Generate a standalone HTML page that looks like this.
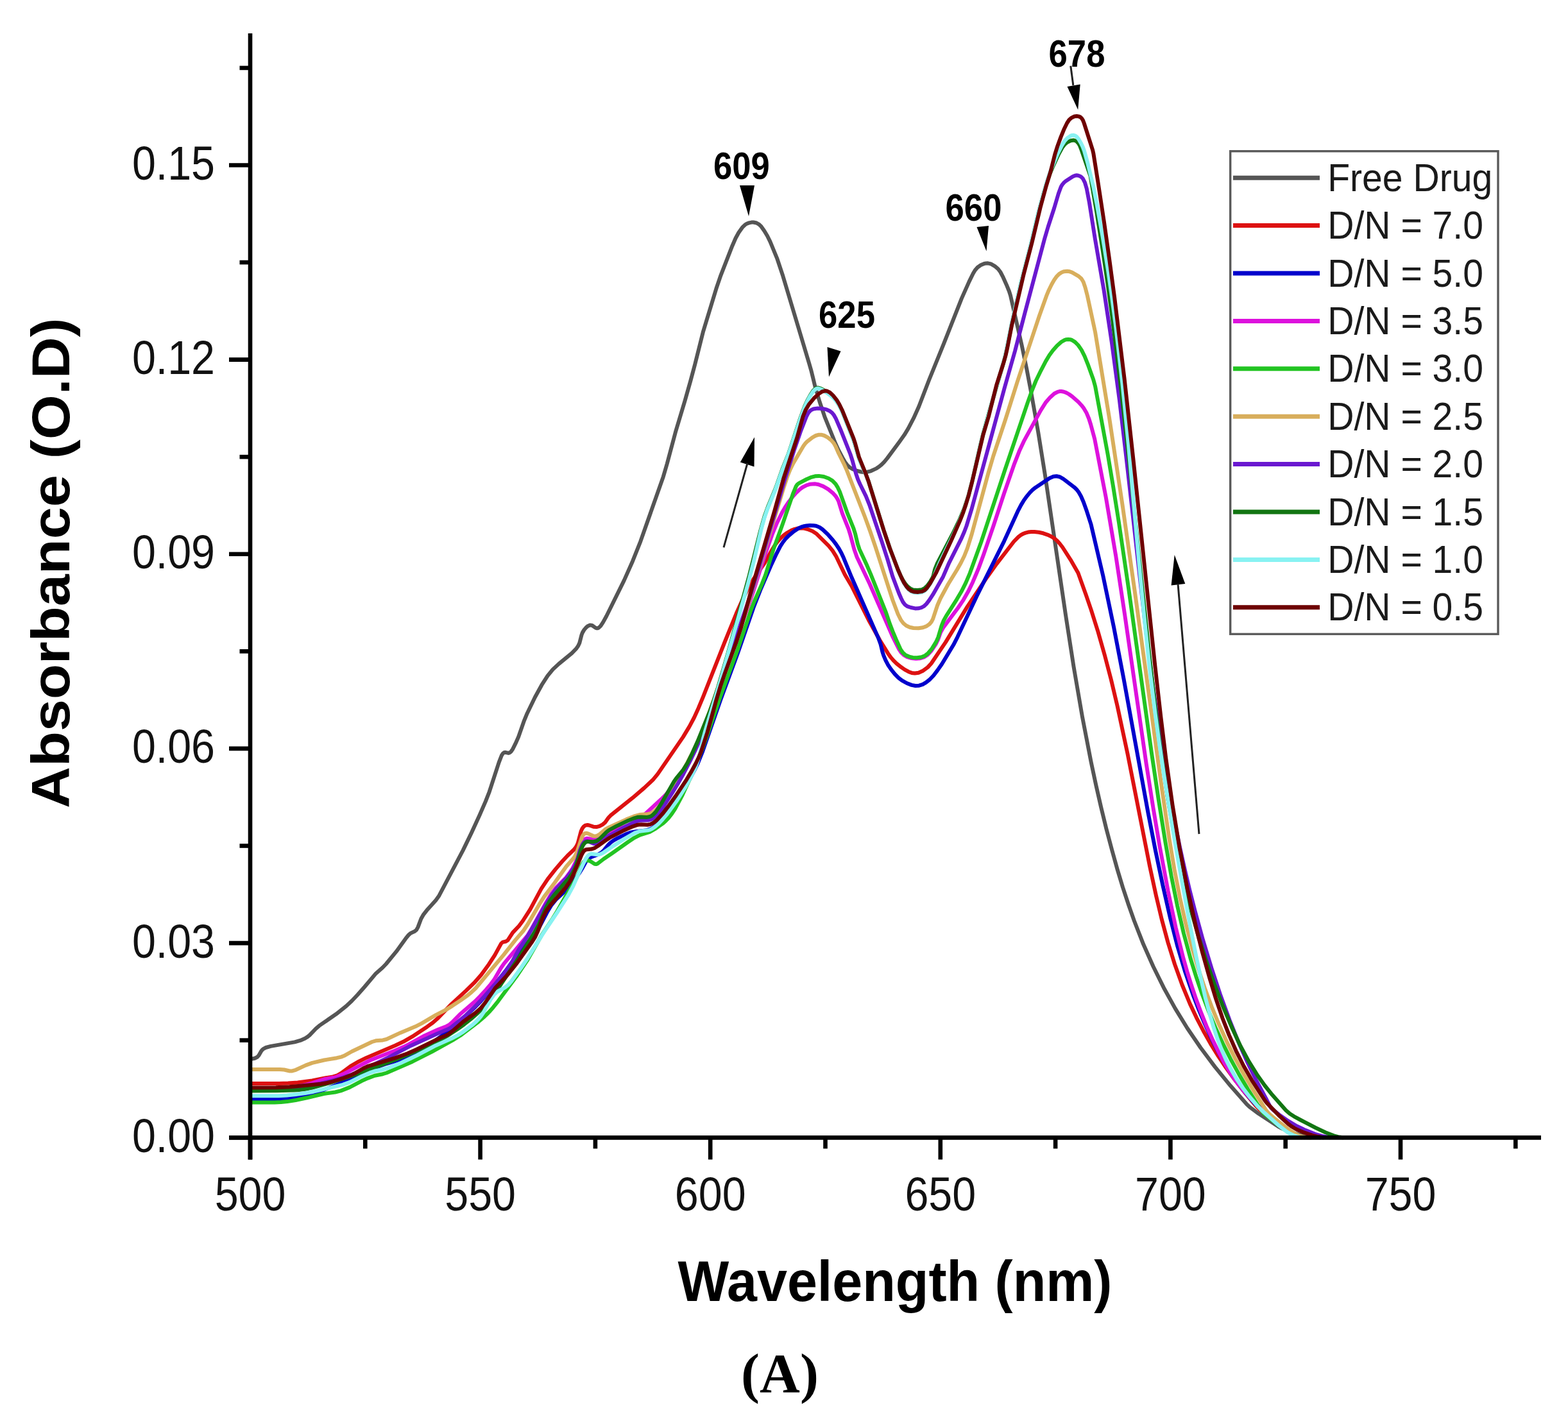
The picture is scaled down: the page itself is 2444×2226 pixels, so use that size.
<!DOCTYPE html><html><head><meta charset="utf-8"><title>Absorbance spectra</title><style>html,body{margin:0;padding:0;background:#fff}svg{display:block}text{font-family:"Liberation Sans",Arial,sans-serif}</style></head><body><svg xmlns="http://www.w3.org/2000/svg" width="2444" height="2226" viewBox="0 0 2444 2226"><rect width="2444" height="2226" fill="#fff"/><g fill="none" stroke-linejoin="round" stroke-linecap="round"><path d="M391.6 1650.8L396.9 1649.7 401.0 1647.7 403.5 1644.9 406.9 1638.9 408.7 1636.6 410.8 1634.8 414.3 1633.0 422.0 1630.9 459.4 1624.4 468.0 1621.9 475.3 1618.7 479.5 1616.1 482.6 1613.6 492.3 1603.5 497.6 1598.9 523.9 1580.8 539.6 1568.4 548.3 1560.2 557.3 1550.8 567.9 1538.8 585.9 1517.4 596.4 1508.3 601.9 1502.5 617.8 1483.2 632.4 1462.9 636.8 1457.5 639.7 1454.9 646.4 1451.8 649.1 1449.5 651.4 1445.4 656.3 1432.3 659.7 1426.2 665.2 1419.1 679.2 1403.5 684.4 1396.2 721.7 1325.4 734.8 1298.4 747.7 1270.3 756.9 1249.1 762.7 1234.3 777.6 1188.6 781.9 1177.5 784.0 1174.4 785.8 1173.0 788.0 1172.8 792.4 1173.9 794.5 1173.3 796.4 1171.7 799.2 1167.7 803.2 1159.7 808.1 1148.7 817.0 1123.3 821.6 1112.2 833.8 1087.0 844.4 1067.7 853.6 1053.4 861.8 1043.4 871.3 1034.6 891.4 1018.1 898.4 1010.9 901.2 1006.8 903.3 1002.3 906.5 989.8 907.9 986.1 910.4 981.9 913.6 978.1 916.6 975.7 919.9 974.4 923.1 975.0 928.2 978.6 930.4 979.3 932.0 979.2 933.4 978.4 936.1 975.9 939.9 970.1 945.2 960.5 972.7 904.9 986.1 874.7 998.3 844.1 1033.8 743.2 1039.7 723.0 1053.4 671.8 1067.5 624.9 1076.2 594.1 1083.2 568.0 1096.1 516.6 1117.1 447.7 1123.6 428.8 1141.4 383.2 1146.6 371.3 1151.4 362.5 1157.1 354.4 1161.4 350.3 1163.9 348.8 1167.6 347.4 1171.4 346.6 1174.3 346.5 1179.1 347.5 1183.2 349.8 1186.6 353.2 1191.2 359.7 1195.9 367.5 1200.3 376.4 1211.0 402.3 1220.2 429.8 1261.0 565.8 1264.3 577.3 1270.5 602.6 1277.6 626.5 1285.3 649.3 1302.1 691.0 1307.1 701.9 1313.2 713.4 1317.1 720.3 1320.7 725.1 1324.3 728.5 1328.5 731.0 1335.0 733.6 1341.7 735.5 1345.6 736.1 1349.6 736.1 1357.3 734.3 1366.3 730.1 1370.4 727.3 1374.2 724.1 1378.4 719.8 1382.9 714.4 1401.9 688.7 1409.5 678.1 1415.7 667.9 1424.0 651.9 1432.2 633.7 1448.3 591.7 1470.9 536.1 1498.8 465.4 1510.6 438.9 1516.8 426.3 1519.8 421.2 1523.7 416.8 1528.6 413.3 1534.0 411.0 1536.9 410.4 1539.8 410.3 1544.5 411.4 1550.5 414.8 1555.7 419.3 1559.3 424.0 1563.0 431.1 1568.8 443.9 1572.9 454.0 1575.0 460.7 1592.7 538.7 1600.4 575.9 1607.7 614.2 1618.3 674.3 1628.9 740.4 1661.1 959.1 1673.5 1039.1 1686.9 1117.0 1700.6 1187.7 1708.3 1223.9 1716.1 1258.0 1724.4 1292.0 1733.1 1324.8 1741.7 1355.6 1750.1 1383.4 1758.9 1410.0 1767.9 1435.5 1782.1 1471.8 1797.5 1506.5 1813.9 1539.7 1831.8 1572.1 1850.6 1602.7 1871.4 1633.3 1893.6 1662.9 1917.7 1692.3 1942.8 1720.8 1947.8 1725.7 1961.5 1735.8 1992.4 1756.0 1998.6 1759.3 2006.9 1762.8 2016.3 1766.1 2024.9 1768.7 2037.6 1771.3 2058.0 1773.3" stroke="#555555" stroke-width="6.0"/><path d="M391.6 1689.0L435.0 1689.1 449.0 1688.5 463.9 1687.4 486.7 1684.5 505.3 1680.6 519.1 1678.4 525.8 1676.3 531.8 1672.9 546.3 1662.2 559.2 1654.7 570.9 1648.9 616.0 1629.7 628.7 1623.8 642.5 1615.9 665.9 1600.4 674.8 1594.0 681.6 1588.1 703.8 1565.1 726.6 1544.1 740.2 1530.8 750.1 1519.6 761.8 1503.4 771.1 1489.1 781.1 1470.9 783.6 1468.6 788.6 1467.5 791.3 1465.8 799.3 1453.6 808.9 1443.5 814.9 1435.5 826.2 1417.8 843.7 1385.3 853.7 1370.3 865.5 1355.4 875.9 1343.2 884.7 1333.7 894.2 1324.8 897.3 1321.0 899.3 1317.6 900.8 1314.0 905.7 1295.6 907.3 1292.0 909.4 1288.8 912.2 1286.6 915.7 1286.0 918.4 1286.5 924.9 1288.7 929.7 1289.1 934.4 1287.9 939.6 1285.1 943.2 1281.9 948.3 1274.8 951.7 1271.2 986.1 1243.7 1004.3 1228.1 1017.5 1215.8 1025.1 1206.6 1064.7 1148.9 1074.5 1132.6 1082.0 1118.5 1088.6 1103.9 1095.9 1086.4 1129.6 1000.8 1147.7 956.3 1157.5 934.4 1166.8 915.6 1174.4 902.7 1191.0 878.9 1203.8 856.3 1208.6 848.7 1212.2 843.9 1216.9 838.7 1221.3 834.7 1226.0 831.0 1233.8 826.5 1238.4 824.8 1242.3 823.8 1250.2 823.3 1254.2 823.8 1259.0 825.0 1266.4 828.0 1272.2 831.7 1291.4 850.7 1297.7 858.4 1303.0 866.8 1316.9 895.7 1328.0 914.6 1353.9 966.5 1371.4 998.0 1384.0 1018.4 1388.6 1024.9 1393.2 1030.2 1397.5 1034.4 1402.9 1038.7 1410.3 1043.9 1416.4 1047.2 1421.1 1048.9 1425.9 1049.5 1431.7 1048.7 1438.9 1045.4 1446.1 1040.1 1451.5 1034.2 1473.9 1001.1 1507.8 945.6 1538.4 899.9 1553.5 878.8 1580.4 844.0 1587.4 836.9 1591.4 833.9 1594.9 832.0 1598.5 830.6 1602.4 829.6 1607.3 829.0 1612.3 829.0 1619.3 829.8 1626.1 831.3 1632.7 833.6 1639.0 836.5 1644.0 839.8 1647.8 843.0 1651.8 847.5 1656.1 853.0 1668.5 872.3 1680.4 893.1 1692.6 926.9 1700.7 950.6 1711.5 984.9 1721.9 1021.5 1731.8 1059.2 1741.5 1100.1 1757.6 1175.4 1792.2 1351.0 1801.9 1395.9 1810.7 1432.9 1820.6 1469.6 1831.0 1503.0 1842.5 1535.0 1854.7 1564.6 1864.9 1586.3 1875.5 1606.7 1886.8 1626.8 1898.9 1646.3 1911.1 1664.6 1924.6 1683.2 1936.9 1699.0 1957.3 1723.6 1962.9 1729.3 1971.5 1736.1 1991.6 1751.0 2011.2 1764.8 2017.2 1768.4 2021.7 1770.5 2026.5 1771.9 2032.8 1773.1" stroke="#dd1111" stroke-width="6.0"/><path d="M391.6 1713.0L427.0 1713.4 448.0 1712.4 458.9 1711.2 468.8 1709.5 478.5 1707.3 488.1 1704.6 504.2 1699.1 526.5 1690.3 561.1 1674.5 588.7 1662.9 600.0 1658.9 622.1 1652.4 636.1 1647.1 644.3 1643.3 652.2 1639.0 673.3 1625.6 696.8 1608.7 717.5 1591.3 740.9 1569.5 749.9 1560.1 759.1 1549.6 771.8 1534.1 788.5 1512.9 809.5 1483.7 814.8 1477.6 827.2 1464.7 832.9 1457.7 839.4 1447.7 853.3 1421.1 859.6 1410.8 866.5 1402.4 881.9 1388.1 889.8 1379.1 903.3 1360.5 907.0 1354.5 913.2 1343.2 916.3 1339.4 921.1 1336.1 932.3 1331.9 937.4 1329.0 941.1 1325.7 948.0 1317.2 951.5 1313.7 956.3 1310.2 963.3 1306.2 975.0 1300.6 982.5 1297.8 991.3 1296.2 1006.1 1294.6 1012.8 1292.7 1017.2 1290.5 1021.3 1287.6 1030.8 1278.8 1037.5 1271.4 1044.4 1262.8 1051.5 1253.2 1057.6 1244.0 1073.9 1216.5 1082.4 1200.6 1088.1 1189.0 1095.2 1171.3 1123.1 1091.1 1149.7 1018.8 1174.5 946.9 1186.2 917.2 1201.3 882.3 1210.2 863.3 1216.2 851.7 1220.5 845.0 1224.8 839.5 1229.8 834.6 1237.5 828.3 1245.0 823.3 1248.6 821.7 1253.3 820.2 1257.2 819.4 1262.2 819.1 1268.1 819.2 1272.0 819.8 1277.5 822.0 1282.3 825.5 1290.3 833.0 1298.2 842.0 1303.1 848.4 1307.5 855.0 1311.4 862.0 1314.8 869.3 1327.3 899.8 1369.2 994.9 1372.6 1004.3 1375.4 1016.0 1377.2 1021.7 1380.3 1029.1 1384.0 1036.2 1389.0 1043.6 1394.6 1050.6 1400.2 1056.3 1405.7 1060.6 1413.5 1065.0 1420.9 1067.9 1426.8 1069.0 1432.6 1068.7 1438.2 1066.8 1443.3 1063.8 1449.6 1058.8 1455.1 1053.0 1461.1 1045.1 1468.0 1035.2 1486.1 1005.3 1492.5 992.8 1523.6 926.8 1565.1 843.6 1586.3 797.2 1591.4 787.4 1596.0 779.7 1600.7 773.3 1605.2 767.9 1609.4 763.7 1614.1 759.9 1635.7 745.4 1642.0 742.7 1646.8 742.2 1651.5 743.2 1657.5 746.6 1674.2 759.3 1677.8 762.7 1680.9 766.6 1684.9 773.5 1688.9 782.7 1693.9 796.8 1700.6 817.7 1719.3 897.6 1736.1 977.8 1751.7 1059.3 1789.3 1265.9 1801.0 1325.8 1812.3 1379.6 1824.1 1431.3 1835.3 1474.9 1847.3 1515.1 1860.4 1552.9 1868.7 1574.4 1877.7 1595.6 1886.8 1615.6 1896.6 1635.3 1905.6 1652.0 1914.3 1666.6 1923.0 1680.0 1932.5 1692.9 1941.9 1704.6 1955.1 1719.6 1962.5 1726.3 1977.8 1739.2 1998.1 1755.5 2010.2 1764.2 2020.6 1770.1 2029.6 1773.0" stroke="#0000cc" stroke-width="6.0"/><path d="M391.6 1697.0L429.0 1697.4 440.0 1696.9 449.9 1695.9 462.7 1693.7 477.4 1690.6 487.1 1688.1 505.2 1682.3 519.9 1679.8 524.7 1678.6 534.9 1674.3 577.6 1652.5 614.9 1638.0 628.7 1632.1 636.7 1628.1 662.2 1614.2 683.1 1604.7 696.1 1599.7 700.4 1597.3 704.2 1594.1 716.8 1581.3 740.3 1561.1 748.7 1552.6 757.5 1543.0 764.6 1534.6 770.0 1527.4 780.6 1509.3 785.7 1501.9 821.7 1459.0 827.5 1449.7 849.7 1409.4 859.5 1393.1 866.8 1383.6 882.2 1368.0 887.6 1360.8 892.5 1353.3 897.9 1342.6 905.5 1318.8 908.3 1312.4 910.4 1309.3 912.5 1307.6 914.9 1306.9 917.6 1307.2 925.0 1309.2 927.7 1309.1 929.5 1308.6 932.9 1306.8 940.5 1300.4 944.6 1297.9 973.0 1288.8 981.4 1285.5 987.6 1282.4 995.2 1277.6 1003.0 1271.3 1030.2 1246.3 1038.7 1237.8 1045.8 1229.4 1052.9 1219.8 1060.7 1208.1 1068.0 1196.2 1076.3 1181.4 1083.7 1167.2 1090.1 1153.6 1096.4 1138.9 1103.9 1119.3 1123.0 1064.5 1167.0 943.3 1174.1 922.4 1187.3 880.5 1194.9 857.7 1203.6 833.2 1210.4 816.5 1219.7 797.7 1224.8 789.1 1229.8 781.7 1235.3 774.5 1240.5 768.5 1245.6 763.7 1251.1 759.5 1257.3 756.3 1263.1 754.7 1270.0 754.2 1275.8 755.2 1283.2 758.1 1290.9 762.7 1297.9 768.3 1302.6 773.5 1304.8 776.8 1307.0 781.2 1312.9 800.3 1322.5 824.4 1325.2 833.0 1331.4 856.2 1335.7 868.5 1355.5 910.0 1391.0 991.6 1401.3 1012.1 1404.6 1017.1 1408.8 1021.2 1414.0 1024.1 1420.7 1026.0 1427.6 1026.8 1434.5 1026.2 1440.1 1024.4 1445.9 1020.7 1452.0 1014.1 1459.1 1003.3 1462.1 997.0 1466.1 985.7 1470.5 977.9 1493.3 947.5 1501.7 935.1 1509.1 922.1 1516.1 907.7 1525.4 885.6 1533.3 864.0 1548.2 820.5 1565.0 769.2 1581.1 722.8 1588.7 703.3 1595.8 687.9 1622.2 639.6 1629.6 627.8 1636.8 619.4 1643.4 613.5 1648.6 610.8 1651.5 610.1 1654.3 610.0 1658.2 610.7 1661.9 612.1 1666.2 614.5 1671.1 618.0 1680.8 626.5 1685.6 631.7 1689.3 636.4 1693.3 643.2 1697.2 652.5 1700.2 662.0 1706.2 684.2 1723.8 775.5 1739.2 866.2 1753.0 957.1 1786.7 1190.7 1797.4 1258.9 1807.7 1320.0 1820.6 1388.8 1832.6 1445.6 1844.3 1493.1 1850.3 1514.3 1856.8 1535.3 1864.2 1557.1 1872.2 1578.7 1880.4 1599.1 1889.3 1619.2 1898.9 1639.0 1908.2 1656.7 1916.9 1671.3 1925.8 1684.5 1937.6 1699.5 1950.4 1713.4 1959.9 1722.4 1975.1 1735.4 1998.2 1757.4 2006.2 1763.5 2014.0 1768.0 2021.3 1771.0 2029.5 1773.0" stroke="#dd11dd" stroke-width="6.0"/><path d="M391.6 1718.6L428.0 1718.6 438.0 1718.1 447.9 1717.1 460.8 1715.0 478.4 1711.3 504.6 1705.0 522.4 1702.5 531.1 1700.4 545.1 1694.9 563.6 1685.1 573.6 1680.6 584.0 1676.8 596.7 1674.2 602.4 1672.5 642.7 1654.9 673.0 1639.5 705.4 1621.7 717.3 1614.3 746.0 1592.5 755.1 1584.7 762.2 1577.7 768.8 1570.2 776.3 1560.8 806.0 1520.6 821.6 1497.4 845.0 1456.6 861.6 1431.6 868.4 1420.6 883.7 1393.6 897.2 1371.3 900.6 1364.1 906.6 1348.3 909.8 1343.5 912.8 1341.5 916.3 1341.1 919.8 1342.3 926.8 1346.8 929.2 1347.1 931.6 1346.2 940.9 1339.0 954.9 1329.5 978.6 1312.7 988.6 1306.1 997.5 1301.6 1012.7 1296.9 1020.5 1292.5 1032.8 1283.9 1037.3 1280.0 1042.2 1274.9 1047.1 1268.7 1052.1 1261.2 1062.9 1240.9 1076.7 1210.9 1092.8 1172.1 1102.4 1145.8 1122.7 1086.2 1150.3 1011.1 1170.4 951.4 1175.4 938.3 1187.8 909.9 1192.9 896.9 1205.4 856.8 1219.4 818.3 1235.9 770.0 1240.8 758.0 1242.9 755.0 1245.1 753.3 1257.3 747.0 1263.7 744.2 1270.4 742.3 1276.3 741.9 1284.1 743.0 1291.6 745.8 1297.5 749.4 1302.4 754.3 1305.5 759.3 1308.9 766.6 1320.3 798.6 1330.4 823.6 1333.1 832.2 1336.8 847.8 1339.6 856.3 1351.4 881.6 1357.3 895.4 1381.0 954.9 1387.1 972.9 1391.4 984.1 1396.8 997.0 1403.8 1012.4 1407.1 1017.3 1411.6 1021.2 1417.0 1023.6 1422.8 1024.9 1429.7 1025.3 1436.5 1024.3 1442.0 1021.9 1446.6 1018.3 1452.4 1011.4 1459.2 1000.4 1462.4 993.1 1467.8 974.9 1470.8 967.5 1475.7 958.8 1491.3 934.3 1498.4 922.3 1505.2 908.9 1511.8 893.3 1529.2 845.3 1566.1 733.3 1601.6 628.1 1608.7 608.3 1614.7 593.5 1622.6 577.3 1630.0 563.1 1635.6 553.7 1640.9 546.4 1647.5 538.9 1654.2 533.0 1659.3 530.1 1662.1 529.2 1665.0 528.9 1667.9 529.2 1670.6 530.0 1675.6 533.1 1680.5 538.0 1685.6 545.4 1690.5 555.2 1695.4 567.3 1704.2 591.8 1707.1 602.3 1726.7 708.5 1735.3 759.8 1743.9 814.1 1759.2 918.0 1795.2 1175.5 1806.0 1247.7 1816.3 1311.9 1825.8 1366.0 1835.1 1412.1 1845.0 1455.0 1855.7 1494.5 1864.3 1522.2 1873.7 1549.7 1883.6 1575.8 1894.4 1601.7 1906.2 1627.1 1918.3 1651.2 1931.3 1674.9 1945.1 1698.1 1965.5 1730.1 1968.5 1734.0 1972.1 1737.5 1989.9 1752.0 2006.9 1764.4 2016.5 1769.6 2021.2 1771.2 2028.4 1773.1" stroke="#22c422" stroke-width="6.0"/><path d="M391.6 1667.0L436.0 1666.9 442.9 1667.5 451.5 1669.5 455.4 1669.4 461.0 1667.8 476.4 1660.6 486.7 1656.9 505.2 1652.5 524.9 1649.2 531.7 1647.6 536.3 1645.8 548.5 1639.0 580.1 1624.0 585.8 1622.3 596.6 1621.4 602.4 1620.0 624.1 1609.9 647.2 1600.3 657.0 1595.3 679.5 1582.2 694.6 1574.4 704.8 1568.1 718.1 1559.3 727.9 1552.3 734.9 1546.7 741.4 1540.5 785.1 1488.4 803.1 1465.6 815.5 1451.3 822.7 1440.5 840.8 1409.4 848.3 1397.6 864.6 1376.0 882.6 1350.8 893.1 1338.8 896.1 1334.9 899.5 1327.7 907.1 1305.0 908.4 1302.4 910.0 1300.2 912.2 1299.0 914.6 1298.8 917.2 1299.6 925.1 1303.3 927.8 1303.5 930.5 1302.9 934.6 1300.5 943.6 1292.7 949.7 1289.4 976.1 1277.4 990.0 1271.8 996.7 1270.1 1009.6 1269.0 1014.4 1267.8 1017.0 1266.5 1020.3 1264.2 1026.0 1258.7 1033.4 1249.3 1046.4 1230.3 1055.2 1216.9 1063.4 1203.2 1071.1 1189.2 1079.8 1172.3 1087.0 1156.9 1094.2 1140.4 1103.2 1117.1 1123.7 1059.6 1146.8 998.9 1158.7 964.9 1174.9 914.4 1221.5 760.3 1227.8 741.3 1231.5 732.1 1236.4 722.2 1252.1 695.5 1255.0 691.5 1257.7 688.6 1266.4 681.8 1271.6 679.0 1276.3 677.7 1280.1 677.7 1284.8 679.0 1290.1 681.8 1295.5 686.1 1299.4 690.6 1302.4 695.7 1307.2 706.7 1315.3 722.8 1319.4 731.9 1348.0 805.5 1355.9 827.1 1364.3 851.7 1391.4 935.5 1399.5 957.0 1404.4 966.8 1408.0 971.5 1412.5 975.2 1417.9 977.7 1423.7 979.0 1431.7 979.3 1438.5 978.2 1444.1 976.1 1448.9 972.7 1452.0 969.0 1454.2 964.6 1461.1 943.7 1465.9 932.7 1477.8 910.8 1491.9 887.7 1497.8 877.3 1503.1 866.5 1507.9 854.4 1514.7 832.5 1540.6 736.9 1548.2 711.0 1566.8 655.0 1585.8 594.9 1619.9 492.5 1631.0 461.4 1634.8 452.2 1639.2 443.2 1643.2 436.3 1647.3 430.6 1650.8 427.1 1654.9 424.5 1658.6 423.2 1663.4 422.7 1667.3 423.3 1671.0 424.6 1681.3 430.6 1685.6 434.5 1688.6 439.5 1691.5 448.0 1695.0 461.6 1707.0 517.3 1728.9 650.5 1749.5 786.9 1769.4 926.5 1811.3 1231.7 1822.4 1306.9 1830.5 1355.2 1839.1 1399.3 1848.3 1440.3 1858.5 1479.0 1867.6 1509.7 1877.7 1540.0 1888.5 1569.1 1899.9 1596.8 1912.3 1624.1 1925.3 1650.1 1939.2 1675.5 1954.1 1700.4 1974.0 1731.5 1977.9 1736.0 1985.4 1742.6 2006.7 1759.2 2019.2 1767.4 2024.6 1770.0 2030.3 1771.9 2036.1 1773.0 2042.6 1773.4" stroke="#d8ae5c" stroke-width="6.0"/><path d="M391.6 1698.0L433.0 1698.2 447.0 1697.6 459.9 1696.3 474.7 1694.0 499.2 1689.0 516.7 1684.9 532.1 1680.6 549.1 1674.5 568.4 1666.2 605.3 1648.4 640.7 1629.9 681.7 1611.2 698.3 1604.3 703.5 1601.4 726.5 1582.2 742.3 1567.0 755.1 1552.9 770.3 1535.6 783.1 1520.3 791.6 1509.2 798.7 1498.3 809.3 1479.0 818.3 1465.8 823.1 1458.2 849.0 1413.1 859.4 1396.0 867.1 1385.6 882.8 1368.9 888.9 1360.9 893.4 1354.3 896.3 1349.1 898.7 1343.6 903.6 1326.3 905.7 1320.7 907.8 1316.2 910.0 1313.1 912.1 1311.7 914.6 1311.2 917.2 1311.7 925.2 1314.9 927.9 1315.0 929.7 1314.6 933.0 1312.8 939.8 1307.0 942.9 1304.9 953.6 1300.4 985.1 1283.1 991.6 1280.4 996.3 1279.1 1000.3 1278.7 1010.2 1278.6 1014.9 1277.4 1017.5 1276.1 1020.7 1273.8 1026.2 1268.0 1033.9 1257.6 1048.5 1234.9 1056.8 1221.2 1065.2 1206.4 1075.3 1186.9 1084.0 1168.9 1091.3 1152.4 1098.4 1134.8 1106.5 1112.2 1171.3 923.0 1179.5 896.2 1222.7 749.4 1238.4 699.9 1247.9 672.5 1257.0 649.2 1260.2 643.1 1263.5 639.6 1267.8 637.5 1273.6 636.6 1281.6 637.0 1288.4 638.4 1292.9 640.4 1296.8 643.4 1299.9 647.2 1302.8 652.4 1310.3 669.9 1325.4 708.0 1328.5 717.5 1334.0 737.7 1337.2 747.2 1340.4 754.5 1349.7 773.4 1355.6 788.2 1374.4 844.1 1383.3 871.7 1391.3 898.6 1401.1 924.8 1404.7 933.0 1407.4 938.4 1410.3 942.3 1414.1 945.1 1419.7 947.0 1426.4 948.4 1431.3 948.3 1436.1 947.1 1440.4 944.8 1444.0 941.4 1448.2 935.9 1454.2 926.7 1470.0 898.9 1478.7 878.7 1498.5 839.4 1502.9 829.3 1506.4 820.0 1514.3 794.2 1565.9 604.0 1582.0 547.3 1597.6 487.3 1628.4 371.3 1633.5 354.0 1643.1 324.5 1649.9 301.5 1653.7 291.3 1655.7 287.8 1658.2 284.8 1661.2 282.3 1672.0 275.2 1675.5 273.7 1678.2 273.3 1681.0 273.7 1683.6 274.7 1686.0 276.4 1687.9 278.5 1691.0 284.7 1693.8 294.2 1697.9 315.8 1706.8 372.1 1720.7 452.9 1732.9 534.0 1744.8 623.2 1755.9 716.6 1785.6 978.9 1795.8 1060.3 1805.9 1132.6 1818.5 1212.6 1825.1 1250.0 1832.0 1286.3 1839.0 1320.6 1846.6 1354.8 1854.4 1387.9 1862.8 1420.8 1875.0 1465.2 1888.4 1509.2 1902.5 1551.9 1916.6 1590.4 1930.4 1624.7 1944.7 1656.7 1957.9 1683.6 1974.4 1714.5 1979.3 1724.2 1981.6 1727.4 1984.4 1730.2 1993.8 1737.7 2008.6 1747.9 2021.5 1755.5 2035.1 1761.9 2049.9 1767.8 2062.4 1771.3 2072.7 1773.2" stroke="#6a18d0" stroke-width="6.0"/><path d="M391.6 1700.5L432.0 1700.2 457.0 1699.6 467.0 1698.9 475.9 1697.7 486.6 1695.5 514.6 1687.9 541.3 1679.5 562.1 1672.3 618.2 1651.1 639.6 1642.5 667.9 1630.0 684.1 1622.1 697.2 1614.7 713.1 1604.3 723.6 1596.7 733.8 1588.7 742.9 1580.8 750.8 1573.2 758.1 1565.0 765.1 1556.5 781.3 1533.7 808.6 1492.9 832.3 1454.7 840.4 1439.8 851.5 1414.1 856.8 1404.5 863.4 1395.7 887.0 1368.5 892.7 1360.4 895.5 1355.0 897.7 1349.5 906.3 1322.9 908.8 1317.5 911.1 1314.4 913.2 1312.7 915.8 1311.8 925.3 1312.2 929.9 1311.0 934.7 1307.6 945.3 1297.1 949.1 1294.1 960.5 1288.0 979.5 1279.0 988.8 1275.3 994.5 1273.7 999.4 1273.4 1008.3 1273.9 1012.1 1273.3 1014.8 1272.2 1017.2 1270.6 1022.1 1265.6 1030.4 1253.2 1050.4 1218.6 1055.0 1212.1 1065.2 1199.7 1071.5 1189.5 1079.0 1174.3 1087.2 1156.1 1106.7 1107.8 1112.8 1090.9 1119.3 1070.9 1135.2 1016.2 1167.7 897.6 1185.4 826.7 1191.7 804.6 1197.5 788.6 1209.4 760.0 1219.3 731.7 1228.9 707.6 1246.2 655.4 1254.1 633.8 1258.2 624.6 1263.0 615.9 1267.4 609.2 1270.7 605.9 1273.1 604.7 1274.8 604.5 1279.2 605.7 1287.0 610.0 1295.1 616.0 1300.2 620.7 1304.0 625.3 1308.3 632.0 1312.3 640.0 1330.7 686.5 1339.3 715.2 1348.8 737.3 1354.1 751.3 1377.8 827.7 1388.1 858.0 1399.2 886.9 1403.6 897.0 1407.2 904.2 1411.0 910.0 1414.9 914.5 1418.8 917.5 1423.2 919.4 1430.0 920.0 1436.8 919.1 1441.2 917.0 1445.4 913.0 1450.1 906.5 1453.5 900.5 1454.9 896.8 1457.2 887.3 1460.9 878.1 1485.0 832.0 1495.0 811.3 1502.7 792.9 1509.1 773.9 1515.9 747.8 1527.5 696.1 1532.3 676.6 1541.9 641.9 1565.6 560.3 1568.7 546.7 1577.3 503.5 1591.5 441.1 1607.0 381.1 1619.2 329.5 1626.7 301.5 1632.8 281.4 1636.8 270.1 1641.0 260.0 1649.8 240.9 1656.0 229.5 1659.7 224.9 1663.5 221.7 1668.8 219.2 1673.5 218.6 1676.2 219.3 1678.5 220.7 1681.0 223.6 1683.0 227.0 1685.2 232.6 1699.5 274.2 1709.2 330.3 1718.5 388.6 1726.0 439.0 1733.2 491.5 1747.3 605.7 1760.0 720.0 1790.8 1015.4 1800.9 1103.8 1809.4 1171.2 1819.8 1242.5 1831.0 1306.5 1837.1 1336.9 1843.5 1366.2 1850.5 1395.4 1857.7 1423.5 1868.4 1461.0 1880.2 1498.2 1892.8 1534.0 1906.5 1569.5 1920.9 1603.5 1933.6 1630.7 1946.4 1654.4 1960.2 1676.5 1971.2 1692.0 1983.1 1706.8 2004.3 1730.7 2010.3 1736.0 2017.0 1740.3 2028.4 1746.5 2050.6 1758.0 2066.0 1765.3 2079.0 1770.4 2085.8 1772.1 2093.1 1773.3" stroke="#127512" stroke-width="6.0"/><path d="M391.6 1708.3L434.0 1708.2 447.0 1707.5 460.9 1706.1 475.7 1704.0 488.5 1701.7 534.3 1690.9 544.6 1687.1 564.3 1677.4 578.2 1671.6 585.8 1669.2 596.5 1667.2 602.3 1665.7 611.7 1662.3 624.7 1657.0 650.0 1645.0 679.2 1629.7 703.9 1618.8 712.8 1614.2 720.4 1609.5 735.7 1598.2 741.0 1593.6 745.9 1588.6 749.7 1584.0 753.1 1579.1 764.7 1558.1 769.8 1550.7 774.9 1546.0 787.1 1539.4 791.7 1535.7 796.9 1529.7 811.6 1509.5 822.3 1493.7 849.9 1449.7 869.5 1420.7 885.7 1395.4 893.3 1381.4 903.0 1359.4 910.7 1343.1 913.5 1337.9 916.4 1333.9 919.3 1331.7 921.8 1331.0 931.1 1332.3 933.9 1332.0 936.7 1331.1 941.0 1328.8 951.2 1321.7 972.0 1308.4 989.3 1298.4 996.8 1295.7 1009.6 1294.3 1013.4 1293.3 1016.1 1292.1 1021.0 1288.8 1027.0 1283.5 1033.1 1276.9 1040.2 1268.5 1054.3 1249.1 1068.7 1226.3 1079.6 1206.0 1083.8 1196.9 1086.6 1189.5 1090.3 1177.0 1096.0 1151.6 1099.3 1139.1 1122.7 1061.5 1165.2 912.4 1174.0 878.6 1186.5 825.0 1191.6 806.7 1196.5 792.6 1209.0 762.0 1219.3 732.8 1229.1 707.6 1246.5 655.5 1253.7 635.7 1257.7 626.6 1262.4 617.8 1267.3 610.3 1270.7 606.9 1273.1 605.7 1274.8 605.5 1279.2 606.7 1287.0 611.0 1295.0 616.9 1300.2 621.6 1304.0 626.2 1308.3 633.0 1312.3 641.0 1330.7 687.5 1333.2 695.1 1337.1 709.6 1339.3 716.2 1348.9 738.2 1354.2 752.2 1377.7 827.6 1387.7 857.0 1400.2 889.7 1405.3 901.6 1409.3 909.7 1412.5 914.7 1416.4 919.2 1420.3 922.0 1424.0 923.4 1430.8 924.0 1436.6 923.2 1441.0 921.2 1444.5 917.8 1449.6 910.5 1455.3 900.0 1464.5 877.8 1483.7 838.3 1493.0 818.3 1500.2 800.7 1505.6 785.7 1509.9 771.3 1514.3 754.9 1528.1 694.4 1533.7 672.1 1548.1 620.1 1565.6 559.6 1568.7 545.9 1577.0 503.7 1590.3 445.2 1606.9 380.3 1617.9 333.6 1630.0 289.2 1634.4 274.9 1638.5 263.6 1648.6 239.7 1654.8 227.1 1659.0 220.3 1663.6 215.2 1668.5 211.9 1671.1 210.9 1672.9 210.7 1675.4 211.3 1678.4 213.3 1681.4 217.2 1684.9 223.2 1687.9 229.6 1690.0 235.2 1695.1 253.4 1704.3 291.4 1709.5 317.9 1718.5 368.0 1726.9 420.4 1732.9 461.9 1738.6 504.6 1749.4 597.9 1758.9 693.5 1775.8 881.7 1783.2 959.4 1791.8 1040.9 1800.7 1113.4 1807.1 1159.9 1814.1 1207.4 1831.1 1311.0 1842.8 1377.0 1856.5 1450.7 1864.6 1491.9 1872.2 1527.1 1878.6 1554.4 1885.2 1579.5 1891.4 1600.7 1897.7 1619.6 1904.1 1636.4 1911.0 1652.0 1918.8 1667.1 1927.4 1681.7 1937.0 1695.8 1947.3 1709.3 1960.3 1724.5 1969.6 1733.5 1993.6 1754.7 2006.2 1764.5 2011.3 1767.6 2016.8 1770.1 2021.5 1771.7 2027.7 1773.1" stroke="#88f2f2" stroke-width="6.0"/><path d="M391.6 1695.6L430.0 1695.3 451.0 1694.3 499.8 1689.8 508.6 1688.3 518.3 1685.9 533.6 1681.2 545.8 1676.6 553.9 1672.7 567.7 1664.7 574.0 1661.8 616.1 1649.1 635.0 1642.3 649.6 1635.8 684.5 1618.6 695.5 1613.9 699.9 1611.4 705.4 1607.2 721.9 1592.7 740.6 1579.3 748.8 1572.1 755.8 1563.6 772.3 1539.8 790.7 1520.0 805.7 1501.3 828.4 1469.6 833.8 1461.2 838.4 1451.2 846.8 1428.8 851.9 1419.1 857.9 1411.0 882.0 1383.0 888.9 1373.2 894.2 1362.4 906.4 1332.9 908.7 1328.5 910.4 1326.3 912.6 1324.7 914.3 1324.2 921.8 1323.6 926.4 1322.2 931.5 1319.0 946.1 1308.6 951.2 1305.4 970.7 1295.3 986.2 1288.3 991.8 1286.3 995.7 1285.5 999.6 1285.3 1009.5 1285.7 1013.4 1285.0 1016.1 1283.9 1019.5 1281.9 1023.3 1278.7 1032.8 1268.4 1041.3 1257.4 1053.0 1241.1 1070.1 1215.3 1077.8 1202.4 1084.0 1191.0 1088.9 1181.1 1092.7 1171.9 1102.3 1142.4 1116.4 1091.3 1123.0 1069.3 1130.2 1048.5 1147.7 1000.6 1154.9 978.8 1171.8 917.1 1207.6 795.2 1221.5 745.1 1242.6 681.5 1251.4 649.7 1255.5 639.6 1261.1 630.1 1268.7 620.8 1276.7 613.4 1280.9 610.7 1285.4 609.3 1289.1 609.6 1293.4 611.7 1298.4 616.4 1304.6 624.2 1308.2 630.2 1312.6 639.2 1330.5 683.7 1333.0 691.3 1338.9 712.5 1349.0 737.5 1353.5 749.7 1377.3 826.1 1386.9 854.5 1399.7 888.2 1404.9 900.1 1408.9 908.1 1412.7 914.0 1416.6 918.4 1420.6 921.2 1424.3 922.5 1431.1 922.9 1436.9 922.1 1441.2 920.0 1444.7 916.6 1449.8 909.2 1458.7 893.6 1482.1 843.8 1496.2 811.8 1501.3 798.8 1505.5 786.5 1510.1 771.1 1514.8 752.7 1532.4 677.8 1541.0 649.0 1553.4 599.6 1564.3 565.3 1567.6 553.7 1570.2 542.0 1577.1 506.7 1596.0 425.9 1608.4 378.5 1621.4 324.0 1630.3 291.2 1637.3 268.2 1644.4 240.1 1648.3 227.7 1653.5 213.6 1658.8 200.7 1663.2 191.7 1666.5 186.8 1670.2 183.6 1674.5 181.5 1678.3 181.0 1681.1 181.4 1683.7 182.4 1685.8 184.2 1687.9 187.4 1689.7 192.0 1703.1 233.8 1704.4 239.7 1711.6 285.1 1721.1 347.4 1729.1 403.8 1737.1 463.3 1752.7 591.3 1766.7 718.6 1800.2 1036.8 1809.2 1116.3 1817.1 1180.8 1827.6 1255.1 1838.6 1322.2 1850.7 1385.0 1864.2 1445.5 1874.0 1484.3 1884.8 1522.8 1895.3 1557.3 1905.6 1587.5 1915.8 1613.6 1926.7 1638.3 1938.4 1661.5 1951.3 1684.1 1970.8 1714.4 1974.4 1719.1 1993.1 1738.5 2007.9 1752.0 2012.7 1755.6 2017.8 1758.8 2023.1 1761.5 2030.5 1764.6 2045.6 1769.8 2054.3 1771.8 2062.6 1773.2" stroke="#6e0000" stroke-width="6.0"/></g><g stroke="#000" stroke-width="6.6" fill="none"><line x1="390" y1="52" x2="390" y2="1807.5"/><line x1="357" y1="1773.4" x2="2402" y2="1773.4"/><line x1="390.0" y1="1773" x2="390.0" y2="1807.5"/><line x1="569.3" y1="1773" x2="569.3" y2="1790.5"/><line x1="748.6" y1="1773" x2="748.6" y2="1807.5"/><line x1="927.9" y1="1773" x2="927.9" y2="1790.5"/><line x1="1107.2" y1="1773" x2="1107.2" y2="1807.5"/><line x1="1286.5" y1="1773" x2="1286.5" y2="1790.5"/><line x1="1465.8" y1="1773" x2="1465.8" y2="1807.5"/><line x1="1645.1" y1="1773" x2="1645.1" y2="1790.5"/><line x1="1824.4" y1="1773" x2="1824.4" y2="1807.5"/><line x1="2003.7" y1="1773" x2="2003.7" y2="1790.5"/><line x1="2183.0" y1="1773" x2="2183.0" y2="1807.5"/><line x1="2362.3" y1="1773" x2="2362.3" y2="1790.5"/><line x1="357" y1="1773.2" x2="390" y2="1773.2"/><line x1="373.5" y1="1621.6" x2="390" y2="1621.6"/><line x1="357" y1="1470.1" x2="390" y2="1470.1"/><line x1="373.5" y1="1318.5" x2="390" y2="1318.5"/><line x1="357" y1="1166.9" x2="390" y2="1166.9"/><line x1="373.5" y1="1015.3" x2="390" y2="1015.3"/><line x1="357" y1="863.8" x2="390" y2="863.8"/><line x1="373.5" y1="712.2" x2="390" y2="712.2"/><line x1="357" y1="560.6" x2="390" y2="560.6"/><line x1="373.5" y1="409.0" x2="390" y2="409.0"/><line x1="357" y1="257.5" x2="390" y2="257.5"/><line x1="373.5" y1="105.9" x2="390" y2="105.9"/></g><text transform="translate(390.0 1886.8) scale(0.893 1)" font-size="74.3" font-weight="normal" text-anchor="middle" fill="#111">500</text><text transform="translate(748.6 1886.8) scale(0.893 1)" font-size="74.3" font-weight="normal" text-anchor="middle" fill="#111">550</text><text transform="translate(1107.2 1886.8) scale(0.893 1)" font-size="74.3" font-weight="normal" text-anchor="middle" fill="#111">600</text><text transform="translate(1465.8 1886.8) scale(0.893 1)" font-size="74.3" font-weight="normal" text-anchor="middle" fill="#111">650</text><text transform="translate(1824.4 1886.8) scale(0.893 1)" font-size="74.3" font-weight="normal" text-anchor="middle" fill="#111">700</text><text transform="translate(2183.0 1886.8) scale(0.893 1)" font-size="74.3" font-weight="normal" text-anchor="middle" fill="#111">750</text><text transform="translate(335.0 1795.7) scale(0.893 1)" font-size="74.3" font-weight="normal" text-anchor="end" fill="#111">0.00</text><text transform="translate(335.0 1492.6) scale(0.893 1)" font-size="74.3" font-weight="normal" text-anchor="end" fill="#111">0.03</text><text transform="translate(335.0 1189.4) scale(0.893 1)" font-size="74.3" font-weight="normal" text-anchor="end" fill="#111">0.06</text><text transform="translate(335.0 886.3) scale(0.893 1)" font-size="74.3" font-weight="normal" text-anchor="end" fill="#111">0.09</text><text transform="translate(335.0 583.1) scale(0.893 1)" font-size="74.3" font-weight="normal" text-anchor="end" fill="#111">0.12</text><text transform="translate(335.0 280.0) scale(0.893 1)" font-size="74.3" font-weight="normal" text-anchor="end" fill="#111">0.15</text><text transform="translate(1394.9 2027.6) scale(0.952 1)" font-size="88.7" font-weight="bold" text-anchor="middle" fill="#000">Wavelength (nm)</text><text transform="translate(107.9 877.7) rotate(-90) scale(1.067 1)" font-size="84.3" font-weight="bold" text-anchor="middle" fill="#000">Absorbance (O.D)</text><text transform="translate(1215.5 2170.0) scale(1.000 1)" font-size="87.0" font-weight="bold" text-anchor="middle" fill="#000" style="font-family:'Liberation Serif','Times New Roman',serif">(A)</text><text transform="translate(1155.8 279.0) scale(0.892 1)" font-size="59.0" font-weight="bold" text-anchor="middle" fill="#000">609</text><text transform="translate(1320.0 510.5) scale(0.892 1)" font-size="59.0" font-weight="bold" text-anchor="middle" fill="#000">625</text><text transform="translate(1517.5 343.5) scale(0.892 1)" font-size="59.0" font-weight="bold" text-anchor="middle" fill="#000">660</text><text transform="translate(1678.5 103.6) scale(0.892 1)" font-size="59.0" font-weight="bold" text-anchor="middle" fill="#000">678</text><g fill="#000"><polygon points="1153,289 1176,289 1167,337"/><polygon points="1289.5,541 1310.5,547.5 1292,587.5"/><polygon points="1522.5,354 1541,352 1537.5,391.5"/><polygon points="1663.5,135 1683.7,131.5 1680.2,171"/><polygon points="1176,681.5 1153.8,720.6 1175.5,727.5"/><polygon points="1830.7,865 1825.6,912.4 1847.3,910"/></g><g stroke="#222" stroke-width="3" fill="none"><line x1="1668.8" y1="102.7" x2="1672.8" y2="133"/><line x1="1128" y1="853.4" x2="1165" y2="722"/><line x1="1869" y1="1300" x2="1836" y2="910"/></g><rect x="1917.7" y="235.7" width="417.3" height="752.7" fill="#fff" stroke="#5a5a5a" stroke-width="3.4"/><line x1="1922" y1="277.2" x2="2057" y2="277.2" stroke="#555555" stroke-width="7"/><text transform="translate(2069.2 297.7) scale(0.921 1)" font-size="62.0" font-weight="normal" text-anchor="start" fill="#1a1a1a">Free Drug</text><line x1="1922" y1="351.6" x2="2057" y2="351.6" stroke="#dd1111" stroke-width="7"/><text transform="translate(2069.2 372.1) scale(0.921 1)" font-size="62.0" font-weight="normal" text-anchor="start" fill="#1a1a1a">D/N = 7.0</text><line x1="1922" y1="426.0" x2="2057" y2="426.0" stroke="#0000cc" stroke-width="7"/><text transform="translate(2069.2 446.5) scale(0.921 1)" font-size="62.0" font-weight="normal" text-anchor="start" fill="#1a1a1a">D/N = 5.0</text><line x1="1922" y1="500.4" x2="2057" y2="500.4" stroke="#dd11dd" stroke-width="7"/><text transform="translate(2069.2 520.9) scale(0.921 1)" font-size="62.0" font-weight="normal" text-anchor="start" fill="#1a1a1a">D/N = 3.5</text><line x1="1922" y1="574.8" x2="2057" y2="574.8" stroke="#22c422" stroke-width="7"/><text transform="translate(2069.2 595.3) scale(0.921 1)" font-size="62.0" font-weight="normal" text-anchor="start" fill="#1a1a1a">D/N = 3.0</text><line x1="1922" y1="649.2" x2="2057" y2="649.2" stroke="#d8ae5c" stroke-width="7"/><text transform="translate(2069.2 669.7) scale(0.921 1)" font-size="62.0" font-weight="normal" text-anchor="start" fill="#1a1a1a">D/N = 2.5</text><line x1="1922" y1="723.6" x2="2057" y2="723.6" stroke="#6a18d0" stroke-width="7"/><text transform="translate(2069.2 744.1) scale(0.921 1)" font-size="62.0" font-weight="normal" text-anchor="start" fill="#1a1a1a">D/N = 2.0</text><line x1="1922" y1="798.0" x2="2057" y2="798.0" stroke="#127512" stroke-width="7"/><text transform="translate(2069.2 818.5) scale(0.921 1)" font-size="62.0" font-weight="normal" text-anchor="start" fill="#1a1a1a">D/N = 1.5</text><line x1="1922" y1="872.4" x2="2057" y2="872.4" stroke="#88f2f2" stroke-width="7"/><text transform="translate(2069.2 892.9) scale(0.921 1)" font-size="62.0" font-weight="normal" text-anchor="start" fill="#1a1a1a">D/N = 1.0</text><line x1="1922" y1="946.8" x2="2057" y2="946.8" stroke="#6e0000" stroke-width="7"/><text transform="translate(2069.2 967.3) scale(0.921 1)" font-size="62.0" font-weight="normal" text-anchor="start" fill="#1a1a1a">D/N = 0.5</text></svg></body></html>
